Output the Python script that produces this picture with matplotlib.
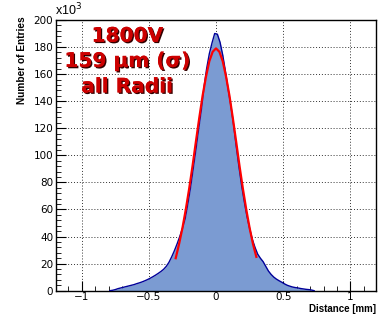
import numpy as np
import matplotlib.pyplot as plt
import matplotlib.patheffects as pe
from matplotlib.ticker import MultipleLocator, FuncFormatter

# histogram of distances, bin width 0.02 mm, contents in thousands
bin_lo = -0.80
bin_w = 0.02
counts = [0, 0.3, 0.8, 1.5, 2.0, 2.5, 3.0, 3.5, 4.0, 4.5,
          5.2, 5.8, 6.5, 7.3, 8.2, 9.2, 10.3, 11.5, 12.8, 14.2,
          15.8, 18.0, 21.0, 25.0, 29.5, 34.5, 40.0, 46.0, 53.0, 64.0,
          76.0, 90.0, 104.0, 119.0, 133.0, 150.0, 164.0, 175.0, 183.0, 190.0,
          189.5, 183.5, 174.0, 162.0, 149.0, 137.0, 123.0, 107.0, 92.0, 78.0,
          66.0, 55.0, 46.0, 38.0, 32.0, 27.0, 24.0, 21.5, 18.0, 14.5,
          12.0, 10.0, 8.5, 7.3, 6.2, 5.0, 4.0, 3.3, 2.7, 2.3,
          2.0, 1.6, 1.3, 1.0, 0.8, 0.5, 0]

# gaussian fit curve (thousands)
fit_x = [-0.30, -0.275, -0.25, -0.225, -0.20, -0.175, -0.15, -0.125, -0.10, -0.075,
         -0.05, -0.025, 0.0, 0.025, 0.05, 0.075, 0.10, 0.125, 0.15, 0.175,
         0.20, 0.225, 0.25, 0.275, 0.30]
fit_y = [24.0, 34.5, 46.3, 60.0, 75.3, 92.0, 110.0, 127.5, 144.0, 158.0,
         169.5, 176.5, 179.0, 176.5, 169.5, 158.0, 144.0, 127.5, 110.0, 92.0,
         75.3, 60.0, 46.3, 34.5, 25.0]

labels = ["1800V", "159 \u00b5m (\u03c3)", "all Radii"]

counts = np.array(counts)
centers = bin_lo + bin_w * (np.arange(len(counts)) + 0.5)

fig = plt.figure(figsize=(3.79, 3.17), dpi=100)
ax = fig.add_axes([0.148, 0.083, 0.844, 0.854])

ax.fill_between(centers, counts, 0, color='#7b9bd2', lw=0, zorder=2)
ax.plot(centers, counts, color='#000099', lw=1.0, zorder=3)
ax.plot(fit_x, fit_y, color='#ff0000', lw=1.6, zorder=4)

ax.set_xlim(-1.19, 1.19)
ax.set_ylim(0, 200)
ax.xaxis.set_major_locator(MultipleLocator(0.5))
ax.xaxis.set_minor_locator(MultipleLocator(0.1))
ax.yaxis.set_major_locator(MultipleLocator(20))
ax.yaxis.set_minor_locator(MultipleLocator(4))
ax.xaxis.set_major_formatter(FuncFormatter(lambda v, p: ('%g' % v).replace('-', '\u2212')))
ax.tick_params(which='both', direction='in', top=False, right=False,
               labelsize=7.5, pad=2)
ax.tick_params(axis='x', pad=1.2)
ax.tick_params(which='major', length=7)
ax.tick_params(which='minor', length=3.5)
ax.grid(True, which='major', color='#333333', ls=(0, (1, 2)), lw=0.7, zorder=1)
ax.set_axisbelow(True)
for s in ax.spines.values():
    s.set_linewidth(1.0)

ax.text(-1.2, 201, 'x10$^{3}$', fontsize=9, ha='left', va='bottom',
        fontfamily='Liberation Sans')
fig.text(0.058, 0.947, 'Number of Entries', rotation=90, ha='center', va='top',
         fontsize=7.3, fontweight='bold', fontfamily='Liberation Sans')
fig.text(0.992, 0.01, 'Distance [mm]', ha='right', va='bottom',
         fontsize=7, fontweight='bold', fontfamily='Liberation Sans')

for lab, yy in zip(labels, [188, 169.4, 150.5]):
    ax.text(-0.66, yy, lab, color='#cc0000', fontsize=14.5, fontweight='bold',
            ha='center', va='center', zorder=6,
            path_effects=[pe.withSimplePatchShadow(offset=(1, -1), shadow_rgbFace='#330000', alpha=1.0),
                          pe.Normal()])

fig.savefig('out.png', dpi=100)
